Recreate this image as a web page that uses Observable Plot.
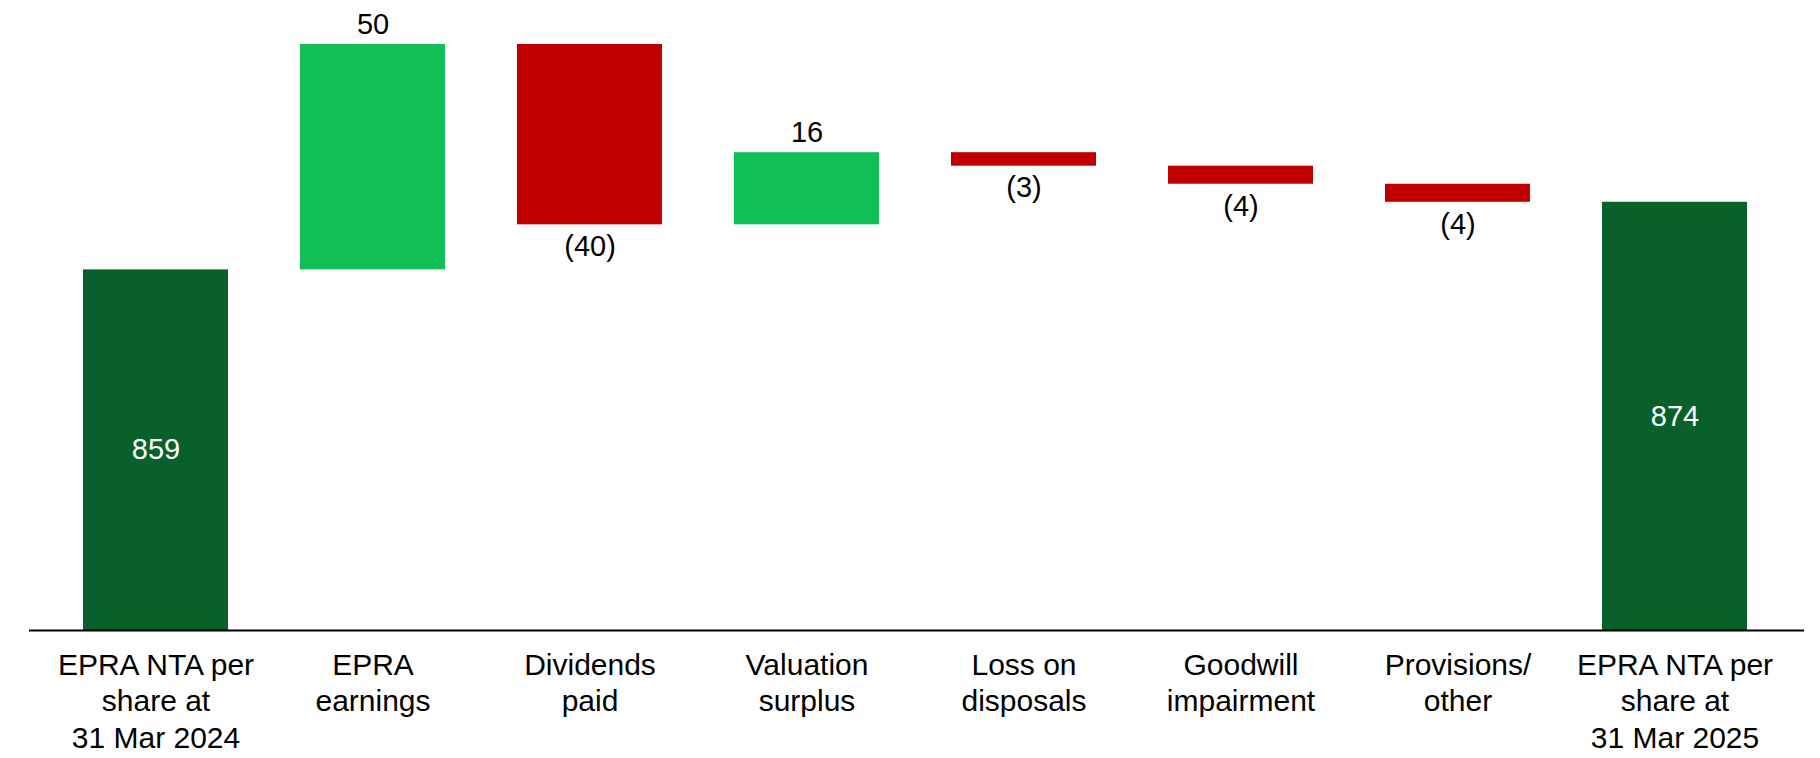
<!DOCTYPE html>
<html>
<head>
<meta charset="utf-8">
<script src="https://cdn.jsdelivr.net/npm/d3@7"></script>
<script src="https://cdn.jsdelivr.net/npm/@observablehq/plot@0.6"></script>
<style>
  html, body { margin: 0; padding: 0; background: #fff; }
  #chart { width: 1820px; height: 758px; }
</style>
</head>
<body>
<div id="chart"></div>
<script>
const categories = [
  "EPRA NTA per\nshare at\n31 Mar 2024",
  "EPRA\nearnings",
  "Dividends\npaid",
  "Valuation\nsurplus",
  "Loss on\ndisposals",
  "Goodwill\nimpairment",
  "Provisions/\nother",
  "EPRA NTA per\nshare at\n31 Mar 2025"
];
const values = [859, 50, -40, 16, -3, -4, -4, 874];
const kinds = ["total", "up", "down", "up", "down", "down", "down", "total"];
const yDomain = [779, 909];

const palette = { total: "#0A602B", up: "#11BF55", down: "#C00000" };

// waterfall construction
let running = 0;
const data = categories.map((cat, i) => {
  const v = values[i];
  const k = kinds[i];
  let y1, y2;
  if (k === "total") { y1 = 0; y2 = v; running = v; }
  else { y1 = running; y2 = running + v; running = y2; }
  return { cat, v, k, y1, y2, fill: palette[k] };
});

const fmt = v => v < 0 ? `(${-v})` : `${v}`;

const totals = data.filter(d => d.k === "total").map(d => ({ ...d, ym: (yDomain[0] + d.v) / 2 }));
const ups = data.filter(d => d.k === "up");
const downs = data.filter(d => d.k === "down");

const font = "'Liberation Sans', Arial, Helvetica, sans-serif";

const chart = Plot.plot({
  width: 1820,
  height: 758,
  marginTop: 44,
  marginBottom: 128,
  marginLeft: 11,
  marginRight: 1,
  style: { fontFamily: font, background: "#fff", color: "#000" },
  x: { domain: categories, paddingInner: 0.33, paddingOuter: 0.33, axis: null },
  y: { domain: yDomain, axis: null },
  color: { type: "identity" },
  marks: [
    Plot.barY(data, { x: "cat", y1: "y1", y2: "y2", fill: "fill", clip: true }),
    Plot.ruleY([yDomain[0]], { stroke: "#000", strokeWidth: 2, insetLeft: 18, insetRight: 15 }),
    Plot.axisX({ tickSize: 0, tickPadding: 18, fontSize: 30, lineHeight: 1.22, fill: "#000", tickFormat: d => d, anchor: "bottom", label: null }),
    Plot.text(totals, { x: "cat", y: "ym", text: d => fmt(d.v), fill: "#fff", fontSize: 29 }),
    Plot.text(ups, { x: "cat", y: "y2", text: d => fmt(d.v), fill: "#000", fontSize: 29, dy: -20 }),
    Plot.text(downs, { x: "cat", y: "y2", text: d => fmt(d.v), fill: "#000", fontSize: 29, dy: 22 })
  ]
});
document.getElementById("chart").appendChild(chart);
</script>
</body>
</html>
